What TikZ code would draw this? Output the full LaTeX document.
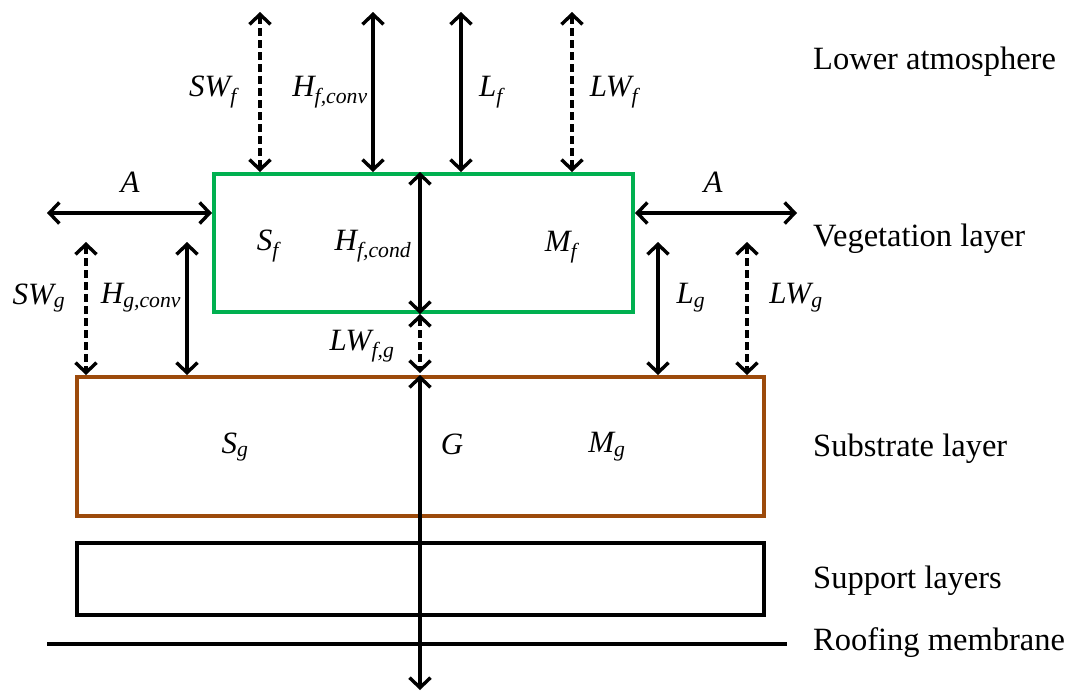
\documentclass[tikz,border=0pt]{standalone}
\usepackage{fontspec}
\setmainfont{Liberation Serif}
\usetikzlibrary{arrows.meta}
\definecolor{veggreen}{RGB}{0,176,80}
\definecolor{subbrown}{RGB}{156,74,11}
\newcommand\flx[2]{#1\textsubscript{#2}}
\begin{document}
\begin{tikzpicture}[x=1pt,y=-1pt,
  flux/.style={line width=3.4pt,{Straight Barb[length=10pt,width=21pt,line width=3.4pt]}-{Straight Barb[length=10pt,width=21pt,line width=3.4pt]}},
  dflux/.style={flux,dash pattern=on 8pt off 4pt},
  lab/.style={font=\fontsize{31}{33}\selectfont\itshape,inner sep=0pt},
  layer/.style={font=\fontsize{32.5}{36}\selectfont,anchor=base west,inner sep=0pt},
  box/.style={draw,line width=3.5pt,inner sep=0pt,anchor=north west}]
\useasboundingbox (0,0) rectangle (1071,694);
% layers
\node[box,draw=veggreen,line width=4pt,minimum width=419pt,minimum height=138pt] (veg) at (212,172) {};
\node[box,draw=subbrown,minimum width=687pt,minimum height=139pt] (sub) at (75,375) {};
\node[box,minimum width=687pt,minimum height=72pt] (sup) at (75,541) {};
\coordinate (m1) at (47,644);
\coordinate (m2) at (787,644);
\draw[line width=3.5pt] (m1) -- (m2);
% top fluxes
\coordinate (t1) at (260,12);
\coordinate (t2) at (373,12);
\coordinate (t3) at (461,12);
\coordinate (t4) at (572,12);
\draw[dflux] (t1) -- (t1 |- veg.north);
\draw[flux] (t2) -- (t2 |- veg.north);
\draw[flux] (t3) -- (t3 |- veg.north);
\draw[dflux] (t4) -- (t4 |- veg.north);
% advection
\coordinate (a1) at (47,213);
\coordinate (a2) at (797,213);
\draw[flux] (a1) -- (a1 -| veg.west);
\draw[flux] (a2 -| veg.east) -- (a2);
% ground fluxes
\coordinate (g1) at (86,242);
\coordinate (g2) at (187,242);
\coordinate (g3) at (658,242);
\coordinate (g4) at (747,242);
\draw[dflux] (g1) -- (g1 |- sub.north);
\draw[flux] (g2) -- (g2 |- sub.north);
\draw[flux] (g3) -- (g3 |- sub.north);
\draw[dflux] (g4) -- (g4 |- sub.north);
% central column
\coordinate (c0) at (420,0);
\draw[flux] (c0 |- veg.north) -- (c0 |- veg.south);
\coordinate (lw1) at (420,314);
\coordinate (lw2) at (420,373);
\draw[dflux] (lw1) -- (lw2);
\coordinate (gb) at (420,690);
\draw[flux] (c0 |- sub.north) -- (gb);
% labels
\node[lab] (lSWf) at (213,92) {\flx{SW}{f}};
\node[lab] (lHfc) at (330,92) {\flx{H}{f,conv}};
\node[lab] (lLf) at (491,92) {\flx{L}{f}};
\node[lab] (lLWf) at (614,92) {\flx{LW}{f}};
\node[lab] (lA1) at (130,182) {A};
\node[lab] (lA2) at (713,182) {A};
\node[lab] (lSf) at (268,246) {\flx{S}{f}};
\node[lab] (lHfd) at (373,246) {\flx{H}{f,cond}};
\node[lab] (lMf) at (561,247) {\flx{M}{f}};
\node[lab] (lSWg) at (39,298) {\flx{SW}{g}};
\node[lab] (lHgc) at (141,298) {\flx{H}{g,conv}};
\node[lab] (lLg) at (691,298) {\flx{L}{g}};
\node[lab] (lLWg) at (796,298) {\flx{LW}{g}};
\node[lab] (lLWfg) at (362,346) {\flx{LW}{f,g}};
\node[lab] (lSg) at (235,447) {\flx{S}{g}};
\node[lab] (lG) at (452,444) {G};
\node[lab] (lMg) at (607,447) {\flx{M}{g}};
% layer names
\node[layer] (n1) at (813,69) {Lower atmosphere};
\node[layer] (n2) at (813,246) {Vegetation layer};
\node[layer] (n3) at (813,456) {Substrate layer};
\node[layer] (n4) at (813,588) {Support layers};
\node[layer] (n5) at (813,650) {Roofing membrane};
\end{tikzpicture}
\end{document}
